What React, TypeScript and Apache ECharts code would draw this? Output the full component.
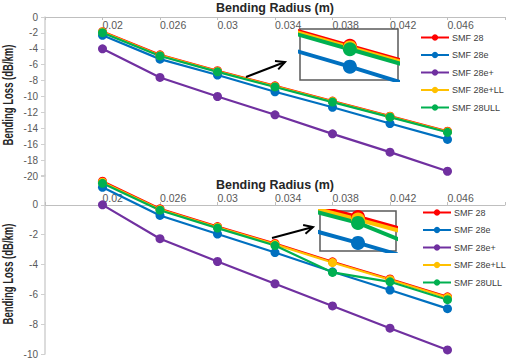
import React, { useEffect, useRef } from "react";
import * as echarts from "echarts";

const RADII = ["0.02", "0.026", "0.03", "0.034", "0.038", "0.042", "0.046"];
const SERIES_NAMES = ["SMF 28", "SMF 28e", "SMF 28e+", "SMF 28e+LL", "SMF 28ULL"];
const COLORS = ["#ff0000", "#0070c0", "#7030a0", "#ffc000", "#00b050"];

// Upper chart (dB/km)
const TOP_SMF28 = [-1.84, -4.76, -6.76, -8.66, -10.57, -12.47, -14.37];
const TOP_SMF28E = [-2.3, -5.3, -7.3, -9.4, -11.35, -13.4, -15.4];
const TOP_SMF28EP = [-4.0, -7.6, -10.0, -12.3, -14.7, -17.0, -19.4];
const TOP_SMF28ELL = [-1.9, -4.83, -6.83, -8.73, -10.63, -12.53, -14.43];
const TOP_SMF28ULL = [-1.97, -4.9, -6.9, -8.8, -10.7, -12.6, -14.5];

// Lower chart (dB/km)
const BOT_SMF28 = [1.58, -0.27, -1.46, -2.59, -3.82, -4.97, -6.17];
const BOT_SMF28E = [1.18, -0.71, -1.96, -3.2, -4.49, -5.71, -6.96];
const BOT_SMF28EP = [0, -2.27, -3.8, -5.29, -6.78, -8.27, -9.73];
const BOT_SMF28ELL = [1.52, -0.32, -1.5, -2.65, -3.87, -5.02, -6.22];
const BOT_SMF28ULL = [1.44, -0.36, -1.56, -2.73, -4.53, -5.16, -6.36];

const TOP_DATA = [TOP_SMF28, TOP_SMF28E, TOP_SMF28EP, TOP_SMF28ELL, TOP_SMF28ULL];
const BOT_DATA = [BOT_SMF28, BOT_SMF28E, BOT_SMF28EP, BOT_SMF28ELL, BOT_SMF28ULL];

const X_TITLE = "Bending Radius (m)";
const Y_TITLE = "Bending Loss (dB/km)";

const LABEL_COLOR = "#595959";
const AXIS_COLOR = "#d0d0d0";
const FONT = "'Liberation Sans', Arial, sans-serif";

const pairs = (arr: number[]) => arr.map((v, i) => [i + 1, v]);

export default function App() {
  const ref = useRef<HTMLDivElement>(null);

  useEffect(() => {
    if (!ref.current) return;
    const chart = echarts.init(ref.current, undefined, { renderer: "svg" });

    const xLabelFmt = (v: number) => (v >= 1 && v <= RADII.length ? RADII[v - 1] : "");

    const mainX = (gridIndex: number, inside: boolean, nameGap: number, offset: number) => ({
      type: "value",
      gridIndex,
      min: 0,
      max: 8,
      interval: 1,
      position: "top",
      offset,
      axisLine: { onZero: false, lineStyle: { color: "#bfbfbf", width: 1 } },
      axisTick: { show: true, inside, length: 3, lineStyle: { color: "#bfbfbf" } },
      axisLabel: {
        inside,
        margin: 2,
        align: "left",
        formatter: xLabelFmt,
        color: LABEL_COLOR,
        fontSize: 10.5,
        fontFamily: FONT,
      },
      splitLine: { show: false },
      name: X_TITLE,
      nameLocation: "middle",
      nameGap,
      nameTextStyle: {
        fontWeight: "bold",
        fontSize: 12.5,
        color: "#262626",
        fontFamily: FONT,
      },
    });

    const mainY = (gridIndex: number, min: number, max: number) => ({
      type: "value",
      gridIndex,
      min,
      max,
      interval: 2,
      axisLine: { show: true, lineStyle: { color: AXIS_COLOR, width: 1.5 } },
      axisTick: { show: true, length: 4, lineStyle: { color: AXIS_COLOR } },
      axisLabel: {
        margin: 7,
        color: LABEL_COLOR,
        fontSize: 10,
        fontFamily: FONT,
        formatter: (v: number) => (v > 0 ? "" : String(v)),
      },
      splitLine: { show: false },
    });

    const hiddenAxis = (gridIndex: number, min: number, max: number) => ({
      type: "value",
      gridIndex,
      min,
      max,
      show: false,
      splitLine: { show: false },
    });

    const series: any[] = [];
    [TOP_DATA, BOT_DATA].forEach((set, g) => {
      set.forEach((arr, i) => {
        series.push({
          type: "line",
          name: SERIES_NAMES[i],
          xAxisIndex: g,
          yAxisIndex: g,
          data: pairs(arr),
          symbol: "circle",
          symbolSize: 9,
          showSymbol: true,
          color: COLORS[i],
          lineStyle: { width: 2.2, color: COLORS[i] },
          itemStyle: { color: COLORS[i] },
          clip: false,
        });
      });
    });
    // magnified insets
    [TOP_DATA, BOT_DATA].forEach((set, g) => {
      set.forEach((arr, i) => {
        series.push({
          type: "line",
          name: SERIES_NAMES[i],
          xAxisIndex: g + 2,
          yAxisIndex: g + 2,
          data: pairs(arr),
          symbol: "circle",
          symbolSize: 14,
          color: COLORS[i],
          lineStyle: { width: 4, color: COLORS[i] },
          itemStyle: { color: COLORS[i] },
          clip: true,
        });
      });
    });

    const legend = (top: number, left: number) => ({
      orient: "vertical",
      left,
      top,
      padding: 0,
      itemWidth: 28,
      itemHeight: 8,
      itemGap: 8.5,
      data: SERIES_NAMES,
      textStyle: {
        fontSize: 9,
        color: "#404040",
        fontFamily: FONT,
        padding: [0, 0, 0, -2],
      },
    });

    const arrow = (tail: number[], head: number[]) => {
      const dx = head[0] - tail[0];
      const dy = head[1] - tail[1];
      const len = Math.sqrt(dx * dx + dy * dy);
      const ux = dx / len;
      const uy = dy / len;
      const bx = head[0] - 9 * ux;
      const by = head[1] - 9 * uy;
      const nx = -uy;
      const ny = ux;
      return [
        {
          type: "polyline",
          shape: { points: [tail, head] },
          style: { stroke: "#000", lineWidth: 2, fill: null },
          z: 100,
        },
        {
          type: "polyline",
          shape: {
            points: [
              [bx + 4.5 * nx, by + 4.5 * ny],
              head,
              [bx - 4.5 * nx, by - 4.5 * ny],
            ],
          },
          style: { stroke: "#000", lineWidth: 2, fill: null },
          z: 100,
        },
      ];
    };

    const yTitle = (x: number, y: number) => ({
      type: "text",
      x,
      y,
      rotation: Math.PI / 2,
      scaleX: 0.68,
      z: 100,
      style: {
        text: Y_TITLE,
        fontSize: 14,
        fontWeight: "bold",
        fontFamily: FONT,
        fill: "#262626",
        align: "center",
        verticalAlign: "middle",
      },
    });

    chart.setOption({
      animation: false,
      backgroundColor: "#ffffff",
      grid: [
        { left: 45, top: 13, width: 460, height: 163 },
        { left: 45, top: 175, width: 460, height: 180 },
        {
          left: 300,
          top: 29,
          width: 98,
          height: 51,
          show: true,
          backgroundColor: "#ffffff",
          borderColor: "#595959",
          borderWidth: 1.5,
        },
        {
          left: 320,
          top: 211,
          width: 76,
          height: 40,
          show: true,
          backgroundColor: "#ffffff",
          borderColor: "#595959",
          borderWidth: 1.5,
        },
      ],
      xAxis: [
        mainX(0, true, 3, 0),
        mainX(1, false, 13, -30),
        hiddenAxis(2, 4.72, 5.27),
        hiddenAxis(3, 3.8, 4.2),
      ],
      yAxis: [
        mainY(0, -20, 0),
        mainY(1, -10, 2),
        hiddenAxis(2, -11.85, -9.94),
        hiddenAxis(3, -3.39, -2.45),
      ],
      legend: [legend(33, 420), legend(208, 422)],
      series,
      graphic: [
        ...arrow([246, 77], [285, 62]),
        ...arrow([272, 238], [313, 227]),
        yTitle(8, 95),
        yTitle(8, 274),
      ],
    });

    return () => chart.dispose();
  }, []);

  return (
    <div
      ref={ref}
      style={{ position: "fixed", left: 0, top: 0, width: 508, height: 359 }}
    />
  );
}
